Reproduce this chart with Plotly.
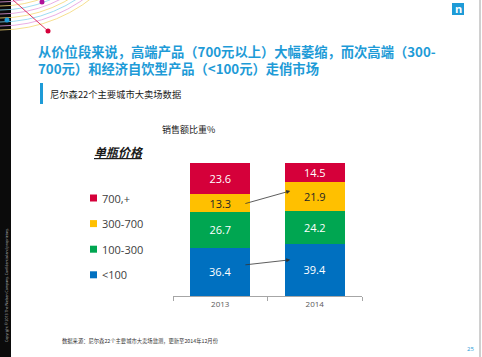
import plotly.graph_objects as go

# ---------------- data ----------------
years = ["2013", "2014"]
series_names = ["<100", "100-300", "300-700", "700,+"]
share_lt100 = [36.4, 39.4]
share_100_300 = [26.7, 24.2]
share_300_700 = [13.3, 21.9]
share_700_plus = [23.6, 14.5]
series_values = [share_lt100, share_100_300, share_300_700, share_700_plus]

colors = ["#0070C0", "#00A651", "#FFC000", "#D5003A"]
text_colors = ["#FFFFFF", "#FFFFFF", "#262626", "#FFFFFF"]

title_line1 = "从价位段来说，高端产品（700元以上）大幅萎缩，而次高端（300-"
title_line2 = "700元）和经济自饮型产品（<100元）走俏市场"
subtitle = "尼尔森22个主要城市大卖场数据"
chart_title = "销售额比重%"
legend_title = "单瓶价格"
source_note = "数据来源：尼尔森22个主要城市大卖场监测，更新至2014年12月份"
page_no = "25"
copyright_txt = "Copyright © 2013 The Nielsen Company. Confidential and proprietary."

# ---------------- layout geometry ----------------
W_FIG, H_FIG = 482, 357
L, R, T, B = 173, 362, 163, 296
PW, PH = R - L, B - T


def px(x):
    return (x - L) / PW


def py(y):
    return (B - y) / PH


CJK = "Noto Sans CJK SC"
NUM = "Open Sans, Noto Sans CJK SC"

fig = go.Figure()
for name, vals, c, tc in zip(series_names, series_values, colors, text_colors):
    fig.add_trace(go.Bar(
        x=years, y=vals, name=name,
        marker=dict(color=c, line=dict(width=0)),
        text=[f"{v:.1f}" for v in vals],
        textposition="inside", insidetextanchor="middle",
        textfont=dict(color=tc, size=11, family=NUM),
        width=0.635, showlegend=False,
    ))

shapes = []
annotations = []

# black strip on left
shapes.append(dict(type="rect", xref="paper", yref="paper",
                   x0=px(0), x1=px(11), y0=py(357), y1=py(0),
                   fillcolor="#0B0B0B", line=dict(width=0), layer="above"))
# decorative arcs
arc_colors = ["#E39BDD", "#F4D774", "#86D3EE"]
cx, cy = 0, -118
for i, r in enumerate(range(120, 152, 4)):
    shapes.append(dict(type="circle", xref="paper", yref="paper",
                       x0=px(cx - r), x1=px(cx + r), y0=py(cy + r), y1=py(cy - r),
                       line=dict(color=arc_colors[i % 3], width=0.8), layer="above"))
# red line and dots
shapes.append(dict(type="line", xref="paper", yref="paper",
                   x0=px(13), y0=py(0), x1=px(48), y1=py(31),
                   line=dict(color="#D5003A", width=0.8), layer="above"))
for (dx, dy, dc) in [(42, 2, "#B0109A"), (7, 20, "#1E9BD7"), (48, 31, "#D5003A")]:
    shapes.append(dict(type="circle", xref="paper", yref="paper",
                       x0=px(dx - 2.5), x1=px(dx + 2.5), y0=py(dy + 2.5), y1=py(dy - 2.5),
                       fillcolor=dc, line=dict(width=0), layer="above"))
# right border line
shapes.append(dict(type="line", xref="paper", yref="paper",
                   x0=px(480), x1=px(480), y0=py(0), y1=py(357),
                   line=dict(color="#A0A0A0", width=1), layer="above"))
# logo
shapes.append(dict(type="rect", xref="paper", yref="paper",
                   x0=px(452), x1=px(464), y0=py(15), y1=py(3),
                   fillcolor="#1E9BD7", line=dict(width=0), layer="above"))
annotations.append(dict(xref="paper", yref="paper", x=px(458), y=py(8.5),
                        xanchor="center", yanchor="middle",
                        text="<b>n</b>", showarrow=False,
                        font=dict(color="white", size=11, family="Open Sans")))
# subtitle bar
shapes.append(dict(type="rect", xref="paper", yref="paper",
                   x0=px(40), x1=px(43), y0=py(104), y1=py(83),
                   fillcolor="#1E9BD7", line=dict(width=0), layer="above"))

# title (two lines in one text block)
annotations.append(dict(xref="paper", yref="paper", x=px(36), y=py(59.5),
                        xanchor="left", yanchor="middle", showarrow=False, align="left",
                        text="<b>" + title_line1 + "<br>" + title_line2.replace("<", "&lt;") + "</b>",
                        font=dict(color="#1E9BD7", size=13.3, family=CJK)))
annotations.append(dict(xref="paper", yref="paper", x=px(48), y=py(94),
                        xanchor="left", yanchor="middle", showarrow=False,
                        text=subtitle, font=dict(color="#1A1A1A", size=9.3, family=CJK)))
annotations.append(dict(xref="paper", yref="paper", x=px(188), y=py(129),
                        xanchor="center", yanchor="middle", showarrow=False,
                        text=chart_title, font=dict(color="#1A1A1A", size=9, family=CJK)))
annotations.append(dict(xref="paper", yref="paper", x=px(92), y=py(151),
                        xanchor="left", yanchor="middle", showarrow=False,
                        text="<b><i><u>" + legend_title + "</u></i></b>",
                        font=dict(color="#1A1A1A", size=12, family=CJK)))

# custom legend (top to bottom = reversed stacking order)
leg_y0, leg_step = 198, 25.6
for k, (name, c) in enumerate(zip(series_names[::-1], colors[::-1])):
    yy = leg_y0 + k * leg_step
    shapes.append(dict(type="rect", xref="paper", yref="paper",
                       x0=px(90), x1=px(97), y0=py(yy + 3.5), y1=py(yy - 3.5),
                       fillcolor=c, line=dict(width=0), layer="above"))
    annotations.append(dict(xref="paper", yref="paper", x=px(99.5), y=py(yy),
                            xanchor="left", yanchor="middle", showarrow=False,
                            text=name.replace("<", "&lt;"),
                            font=dict(color="#404040", size=11, family=NUM)))

# arrows between bars
annotations.append(dict(xref="x", yref="y", axref="x", ayref="y",
                        x=0.74, y=79.0, ax=0.25, ay=69.2, text="", showarrow=True,
                        arrowhead=2, arrowsize=1, arrowwidth=0.8, arrowcolor="#333333"))
annotations.append(dict(xref="x", yref="y", axref="x", ayref="y",
                        x=0.74, y=27.2, ax=0.25, ay=23.3, text="", showarrow=True,
                        arrowhead=2, arrowsize=1, arrowwidth=0.8, arrowcolor="#333333"))

# footnote, page number, copyright
annotations.append(dict(xref="paper", yref="paper", x=px(60), y=py(341),
                        xanchor="left", yanchor="middle", showarrow=False,
                        text=source_note, font=dict(color="#333333", size=5.3, family=CJK)))
annotations.append(dict(xref="paper", yref="paper", x=px(470), y=py(349),
                        xanchor="center", yanchor="middle", showarrow=False,
                        text=page_no, font=dict(color="#1E9BD7", size=6, family=NUM)))
annotations.append(dict(xref="paper", yref="paper", x=px(6), y=py(285),
                        xanchor="center", yanchor="middle", showarrow=False, textangle=-90,
                        text=copyright_txt, font=dict(color="#BBBBBB", size=3.5, family=NUM)))

fig.update_layout(
    width=W_FIG, height=H_FIG,
    margin=dict(l=L, r=W_FIG - R, t=T, b=H_FIG - B, pad=0),
    barmode="stack", bargap=0.365,
    paper_bgcolor="white", plot_bgcolor="white",
    showlegend=False,
    uniformtext=dict(minsize=11, mode="show"),
    shapes=shapes, annotations=annotations,
    xaxis=dict(type="category", range=[-0.5, 1.5], showline=True,
               linecolor="#A6A6A6", linewidth=1, ticks="outside", tickson="boundaries",
               ticklen=4, tickcolor="#A6A6A6", showgrid=False,
               tickfont=dict(size=8, color="#595959", family=NUM), fixedrange=True),
    yaxis=dict(range=[0, 100], visible=False, fixedrange=True),
)

fig.write_html("out.html", config={"displayModeBar": False},
               post_script="document.body.style.margin='0';document.body.style.overflow='hidden';")
